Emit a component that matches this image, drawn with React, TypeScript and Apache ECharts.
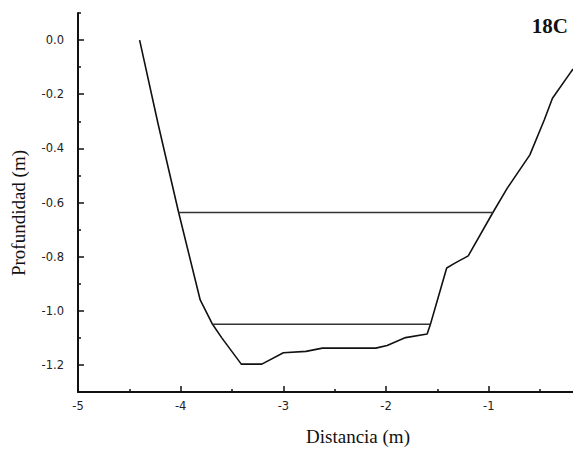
import React, { useEffect, useRef } from "react";
import * as echarts from "echarts";

// Cross-section profile (distance m, depth m)
const profileX = [-4.4, -4.22, -4.02, -3.81, -3.69, -3.6, -3.41, -3.21, -3.0, -2.78, -2.62, -2.1, -1.99, -1.81, -1.6, -1.57, -1.5, -1.41, -1.33, -1.2, -0.96, -0.82, -0.6, -0.46, -0.38, -0.21, -0.18];
const profileY = [0.0, -0.31, -0.637, -0.96, -1.05, -1.1, -1.197, -1.197, -1.155, -1.15, -1.138, -1.138, -1.128, -1.099, -1.086, -1.052, -0.96, -0.842, -0.824, -0.797, -0.637, -0.547, -0.424, -0.295, -0.215, -0.123, -0.107];

// Water levels
const upperLevelX = [-4.02, -0.96];
const upperLevelY = -0.637;
const lowerLevelX = [-3.69, -1.57];
const lowerLevelY = -1.05;

// Ticks
const xMinorTicks = [-4.5, -3.5, -2.5, -1.5, -0.5];
const yMajorTicks = [-1.2, -1.0, -0.8, -0.6, -0.4, -0.2, 0.0];
const yMinorTicks = [-1.1, -0.9, -0.7, -0.5, -0.3, -0.1, 0.1];

const panelLabel = "18C";
const xTitle = "Distancia (m)";
const yTitle = "Profundidad (m)";

export default function App() {
  const ref = useRef<HTMLDivElement>(null);
  useEffect(() => {
    if (!ref.current) return;
    const chart = echarts.init(ref.current, null, { renderer: "svg" });
    const axisColor = "#111";
    const labelStyle = { fontFamily: "DejaVu Sans", fontSize: 11.5, color: "#222" };
    chart.setOption({
      animation: false,
      backgroundColor: "#fff",
      grid: { left: 78, right: 0, top: 13, bottom: 59, containLabel: false },
      xAxis: [
        {
          type: "value",
          min: -5,
          max: -0.18,
          interval: 1,
          position: "bottom",
          axisLine: { show: true, onZero: false, lineStyle: { color: axisColor, width: 2 } },
          axisTick: { show: true, inside: true, length: 6, lineStyle: { color: axisColor, width: 1.5 } },
          axisLabel: { ...labelStyle, margin: 8, showMaxLabel: false, formatter: (v: number) => String(Math.round(v)) },
          splitLine: { show: false },
        },
        {
          type: "value",
          min: -5,
          max: -0.18,
          position: "bottom",
          axisLine: { show: false, onZero: false },
          axisTick: { show: true, inside: true, length: 3, customValues: xMinorTicks, lineStyle: { color: axisColor, width: 1.5 } },
          axisLabel: { show: false, customValues: xMinorTicks },
          splitLine: { show: false },
        },
      ],
      yAxis: [
        {
          type: "value",
          min: -1.3,
          max: 0.1,
          position: "left",
          axisLine: { show: true, onZero: false, lineStyle: { color: axisColor, width: 2 } },
          axisTick: { show: true, inside: true, length: 6, customValues: yMajorTicks, lineStyle: { color: axisColor, width: 1.5 } },
          axisLabel: { ...labelStyle, margin: 14, customValues: yMajorTicks, formatter: (v: number) => v.toFixed(1) },
          splitLine: { show: false },
        },
        {
          type: "value",
          min: -1.3,
          max: 0.1,
          position: "left",
          axisLine: { show: false, onZero: false },
          axisTick: { show: true, inside: true, length: 3, customValues: yMinorTicks, lineStyle: { color: axisColor, width: 1.5 } },
          axisLabel: { show: false, customValues: yMinorTicks },
          splitLine: { show: false },
        },
      ],
      series: [
        {
          type: "line",
          xAxisIndex: 0,
          yAxisIndex: 0,
          data: profileX.map((x, i) => [x, profileY[i]]),
          showSymbol: false,
          lineStyle: { color: "#111", width: 1.6 },
          clip: true,
        },
        {
          type: "line",
          xAxisIndex: 0,
          yAxisIndex: 0,
          data: upperLevelX.map((x) => [x, upperLevelY]),
          showSymbol: false,
          lineStyle: { color: "#333", width: 1.5 },
        },
        {
          type: "line",
          xAxisIndex: 0,
          yAxisIndex: 0,
          data: lowerLevelX.map((x) => [x, lowerLevelY]),
          showSymbol: false,
          lineStyle: { color: "#333", width: 1.5 },
        },
      ],
      graphic: [
        {
          type: "text",
          right: 5,
          top: 15,
          style: { text: panelLabel, font: "bold 21px 'Liberation Serif'", fill: "#111" },
        },
        {
          type: "text",
          x: 358,
          y: 436,
          style: { text: xTitle, font: "19px 'Liberation Serif'", fill: "#111", align: "center", verticalAlign: "middle" },
        },
        {
          type: "text",
          x: 18,
          y: 213,
          rotation: Math.PI / 2,
          style: { text: yTitle, font: "19px 'Liberation Serif'", fill: "#111", align: "center", verticalAlign: "middle" },
        },
      ],
    });
    return () => chart.dispose();
  }, []);
  return <div ref={ref} style={{ position: "absolute", left: 0, top: 0, width: 573, height: 451 }} />;
}
